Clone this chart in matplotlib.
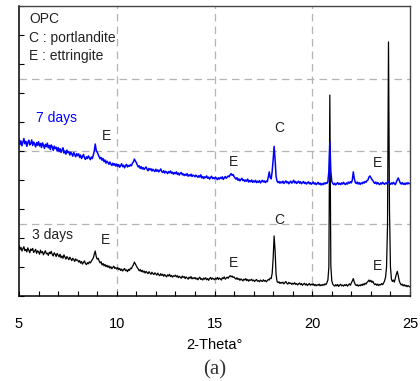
import numpy as np
import matplotlib
matplotlib.use('Agg')
from matplotlib import pyplot as plt

plt.rcParams['font.family'] = ['Liberation Sans', 'DejaVu Sans']

# 2-theta grid, 0.05 deg steps from 5 to 25 (one row = one degree)
two_theta = np.round(np.arange(5.0, 25.0001, 0.05), 2)

# 3 days (black), intensity in arbitrary units
days3 = [
    1.74, 1.60, 1.68, 1.55, 1.63, 1.70, 1.56, 1.61, 1.52, 1.66, 1.58, 1.49, 1.62, 1.57, 1.64, 1.50, 1.55, 1.61, 1.47, 1.56,
    1.52, 1.44, 1.58, 1.49, 1.53, 1.42, 1.50, 1.56, 1.45, 1.48, 1.40, 1.51, 1.46, 1.54, 1.43, 1.38, 1.49, 1.44, 1.36, 1.47,
    1.41, 1.35, 1.44, 1.32, 1.38, 1.30, 1.42, 1.34, 1.27, 1.36, 1.31, 1.25, 1.34, 1.28, 1.22, 1.30, 1.26, 1.19, 1.28, 1.23,
    1.24, 1.17, 1.22, 1.13, 1.19, 1.10, 1.16, 1.21, 1.12, 1.08, 1.15, 1.11, 1.18, 1.14, 1.20, 1.26, 1.31, 1.44, 1.55, 1.36,
    1.27, 1.30, 1.21, 1.14, 1.18, 1.07, 1.12, 1.04, 1.09, 1.01, 1.06, 0.99, 1.04, 0.96, 1.01, 0.94, 0.99, 1.03, 0.95, 0.98,
    0.93, 0.98, 0.91, 0.95, 0.88, 0.93, 0.86, 0.91, 0.95, 0.87, 0.90, 0.84, 0.92, 0.88, 0.96, 0.94, 1.02, 1.07, 1.17, 1.11,
    1.04, 0.98, 0.93, 0.87, 0.91, 0.84, 0.89, 0.82, 0.86, 0.79, 0.85, 0.81, 0.77, 0.84, 0.79, 0.75, 0.82, 0.77, 0.74, 0.80,
    0.76, 0.72, 0.79, 0.73, 0.70, 0.77, 0.71, 0.75, 0.68, 0.74, 0.70, 0.66, 0.73, 0.69, 0.75, 0.67, 0.71, 0.65, 0.70, 0.68,
    0.72, 0.66, 0.70, 0.63, 0.68, 0.65, 0.61, 0.69, 0.64, 0.67, 0.60, 0.66, 0.62, 0.58, 0.65, 0.61, 0.67, 0.59, 0.63, 0.60,
    0.64, 0.58, 0.62, 0.56, 0.61, 0.65, 0.57, 0.60, 0.55, 0.62, 0.58, 0.63, 0.56, 0.60, 0.54, 0.61, 0.64, 0.57, 0.62, 0.59,
    0.56, 0.61, 0.58, 0.64, 0.57, 0.62, 0.59, 0.55, 0.63, 0.60, 0.66, 0.58, 0.62, 0.65, 0.61, 0.67, 0.70, 0.66, 0.69, 0.64,
    0.66, 0.61, 0.58, 0.63, 0.57, 0.60, 0.54, 0.59, 0.56, 0.52, 0.58, 0.55, 0.60, 0.53, 0.57, 0.51, 0.56, 0.54, 0.58, 0.52,
    0.55, 0.50, 0.54, 0.57, 0.51, 0.53, 0.49, 0.55, 0.52, 0.50, 0.56, 0.51, 0.54, 0.49, 0.53, 0.57, 0.55, 0.62, 0.60, 0.78,
    1.30, 2.07, 1.55, 0.74, 0.50, 0.46, 0.49, 0.43, 0.47, 0.44, 0.48, 0.42, 0.46, 0.50, 0.44, 0.41, 0.47, 0.43, 0.45, 0.40,
    0.44, 0.41, 0.46, 0.40, 0.43, 0.38, 0.42, 0.45, 0.39, 0.43, 0.37, 0.41, 0.44, 0.38, 0.42, 0.36, 0.40, 0.43, 0.37, 0.41,
    0.38, 0.42, 0.36, 0.40, 0.35, 0.39, 0.37, 0.41, 0.35, 0.39, 0.36, 0.40, 0.37, 0.42, 0.39, 0.46, 0.55, 1.00, 6.93, 1.05,
    0.52, 0.41, 0.37, 0.34, 0.39, 0.35, 0.40, 0.33, 0.37, 0.41, 0.35, 0.38, 0.34, 0.39, 0.36, 0.40, 0.34, 0.38, 0.42, 0.37,
    0.45, 0.52, 0.60, 0.48, 0.40, 0.36, 0.39, 0.34, 0.38, 0.35, 0.40, 0.36, 0.42, 0.38, 0.44, 0.41, 0.47, 0.50, 0.55, 0.49,
    0.54, 0.47, 0.51, 0.43, 0.39, 0.42, 0.37, 0.41, 0.36, 0.40, 0.38, 0.43, 0.39, 0.45, 0.52, 0.65, 1.00, 2.40, 8.76, 3.00,
    1.00, 0.58, 0.50, 0.55, 0.48, 0.62, 0.75, 0.85, 0.70, 0.52, 0.44, 0.38, 0.41, 0.35, 0.39, 0.34, 0.37, 0.32, 0.36, 0.33,
    0.31,
]

# 7 days (blue)
days7 = [
    5.40, 5.22, 5.35, 5.18, 5.30, 5.43, 5.25, 5.33, 5.16, 5.29, 5.37, 5.21, 5.26, 5.38, 5.19, 5.31, 5.24, 5.14, 5.29, 5.20,
    5.32, 5.17, 5.26, 5.12, 5.28, 5.20, 5.09, 5.23, 5.15, 5.27, 5.11, 5.19, 5.05, 5.21, 5.14, 5.02, 5.17, 5.08, 5.13, 5.00,
    5.12, 4.98, 5.08, 4.95, 5.04, 5.11, 4.93, 5.00, 4.89, 5.03, 4.94, 4.98, 4.86, 4.96, 4.90, 4.82, 4.95, 4.87, 4.80, 4.91,
    4.84, 4.90, 4.78, 4.86, 4.74, 4.82, 4.88, 4.76, 4.71, 4.80, 4.74, 4.83, 4.77, 4.70, 4.79, 4.74, 4.86, 5.00, 5.24, 5.02,
    4.96, 4.88, 4.80, 4.73, 4.78, 4.68, 4.74, 4.63, 4.69, 4.58, 4.65, 4.60, 4.54, 4.62, 4.55, 4.50, 4.58, 4.51, 4.56, 4.48,
    4.55, 4.47, 4.53, 4.44, 4.50, 4.56, 4.46, 4.51, 4.42, 4.49, 4.54, 4.45, 4.50, 4.47, 4.53, 4.49, 4.58, 4.62, 4.72, 4.66,
    4.60, 4.52, 4.45, 4.49, 4.40, 4.46, 4.38, 4.43, 4.36, 4.41, 4.45, 4.37, 4.32, 4.40, 4.35, 4.39, 4.31, 4.37, 4.33, 4.29,
    4.37, 4.30, 4.35, 4.28, 4.33, 4.38, 4.29, 4.26, 4.32, 4.24, 4.30, 4.27, 4.22, 4.29, 4.25, 4.31, 4.23, 4.27, 4.20, 4.26,
    4.22, 4.28, 4.19, 4.24, 4.17, 4.23, 4.26, 4.18, 4.21, 4.15, 4.20, 4.16, 4.22, 4.13, 4.18, 4.14, 4.20, 4.12, 4.17, 4.15,
    4.11, 4.17, 4.13, 4.09, 4.15, 4.10, 4.18, 4.07, 4.12, 4.05, 4.11, 4.08, 4.14, 4.06, 4.10, 4.03, 4.09, 4.13, 4.05, 4.08,
    4.04, 4.10, 4.06, 4.01, 4.08, 4.03, 4.09, 4.05, 4.11, 4.02, 4.07, 4.12, 4.06, 4.10, 4.14, 4.11, 4.18, 4.22, 4.16, 4.19,
    4.12, 4.07, 4.03, 4.08, 3.99, 4.04, 3.97, 4.02, 4.06, 3.98, 4.01, 3.95, 4.00, 3.96, 4.03, 3.93, 3.98, 3.94, 4.00, 3.92,
    3.97, 3.93, 3.99, 3.91, 3.96, 3.92, 3.98, 3.90, 3.95, 3.99, 3.93, 3.97, 3.91, 3.96, 3.94, 4.10, 4.28, 4.08, 4.04, 4.30,
    4.70, 5.16, 4.70, 4.12, 3.96, 3.91, 3.95, 3.89, 3.94, 3.90, 3.96, 3.88, 3.93, 3.97, 3.90, 3.94, 3.87, 3.92, 3.96, 3.89,
    3.93, 3.99, 3.90, 3.95, 3.88, 3.92, 3.96, 3.89, 3.94, 3.87, 3.91, 3.95, 3.88, 3.92, 3.86, 3.90, 3.94, 3.87, 3.91, 3.85,
    3.89, 3.93, 3.86, 3.90, 3.84, 3.88, 3.92, 3.85, 3.89, 3.83, 3.88, 3.84, 3.90, 3.86, 3.91, 3.88, 3.95, 4.30, 5.31, 4.30,
    3.95, 3.88, 3.84, 3.89, 3.83, 3.87, 3.91, 3.85, 3.89, 3.84, 3.90, 3.86, 3.92, 3.87, 3.84, 3.90, 3.86, 3.93, 3.89, 3.94,
    3.90, 4.00, 4.28, 4.05, 3.92, 3.88, 3.93, 3.86, 3.91, 3.85, 3.90, 3.87, 3.93, 3.89, 3.95, 3.92, 3.98, 4.00, 4.10, 4.14,
    4.08, 4.02, 3.98, 3.92, 3.88, 3.93, 3.86, 3.91, 3.87, 3.84, 3.90, 3.86, 3.92, 3.88, 3.85, 3.90, 3.87, 3.93, 3.96, 3.89,
    3.85, 3.90, 3.86, 3.92, 3.88, 3.84, 3.93, 4.00, 4.07, 3.98, 3.90, 3.86, 3.91, 3.85, 3.89, 3.84, 3.90, 3.86, 3.91, 3.87,
    3.88,
]

x_ticks = [5, 10, 15, 20, 25]
legend_lines = ['OPC', 'C : portlandite', 'E : ettringite']

# peak labels: (2-theta, intensity, text)
labels_7 = [(9.25, 5.52, 'E'), (18.04, 5.79, 'C'), (15.74, 4.62, 'E'), (23.1, 4.59, 'E')]
labels_3 = [(9.19, 1.93, 'E'), (18.04, 2.62, 'C'), (15.74, 1.14, 'E'), (23.1, 1.03, 'E')]

fig = plt.figure(figsize=(4.2, 3.81), dpi=100)
ax = fig.add_axes([19/420, 1 - 296/381, 391/420, 290/381])

ax.plot(two_theta, days3, color='black', linewidth=0.9, zorder=3)
ax.plot(two_theta, days7, color='#0000ff', linewidth=1.1, zorder=4)

ax.set_xlim(5, 25)
ax.set_ylim(0, 10)
ax.set_xticks(x_ticks)
ax.set_xticks(np.arange(5, 26, 1), minor=True)
ax.set_yticks(np.arange(0, 11, 1))
ax.set_yticklabels([])
ax.tick_params(axis='both', which='both', direction='in', top=False, right=False)
ax.tick_params(axis='x', which='both', length=3.5, width=0.8, labelsize=10.5, pad=15, colors='black')
ax.tick_params(axis='y', length=3.5, width=0.8)

for v in [10, 15, 20]:
    ax.axvline(v, color='#b4b4b4', linestyle=(0, (6, 4)), linewidth=0.9, zorder=1)
for v in [2.5, 5, 7.5]:
    ax.axhline(v, color='#b4b4b4', linestyle=(0, (6, 4)), linewidth=0.9, zorder=1)

for side in ['left', 'bottom']:
    ax.spines[side].set_color('black')
    ax.spines[side].set_linewidth(1.1)
for side in ['top', 'right']:
    ax.spines[side].set_color('#444444')
    ax.spines[side].set_linewidth(1.0)

for i, t in enumerate(legend_lines):
    ax.text(5.51, 9.55 - 0.64 * i, t, fontsize=10, ha='left', va='center', color='#222222')

ax.text(5.87, 6.14, '7 days', fontsize=10, ha='left', va='center', color='#0000ff')
ax.text(5.66, 2.10, '3 days', fontsize=10, ha='left', va='center', color='#222222')
for xx, yy, t in labels_7 + labels_3:
    ax.text(xx, yy, t, fontsize=10, ha='left', va='center', color='#222222')

ax.set_xlabel('2-Theta°', fontsize=10.5, labelpad=5)
fig.text(0.511, 1 - 370/381, '(a)', fontsize=15, ha='center', va='center',
         family=['Liberation Serif', 'DejaVu Serif'], color='#333333')

fig.savefig('out.png', dpi=100)
